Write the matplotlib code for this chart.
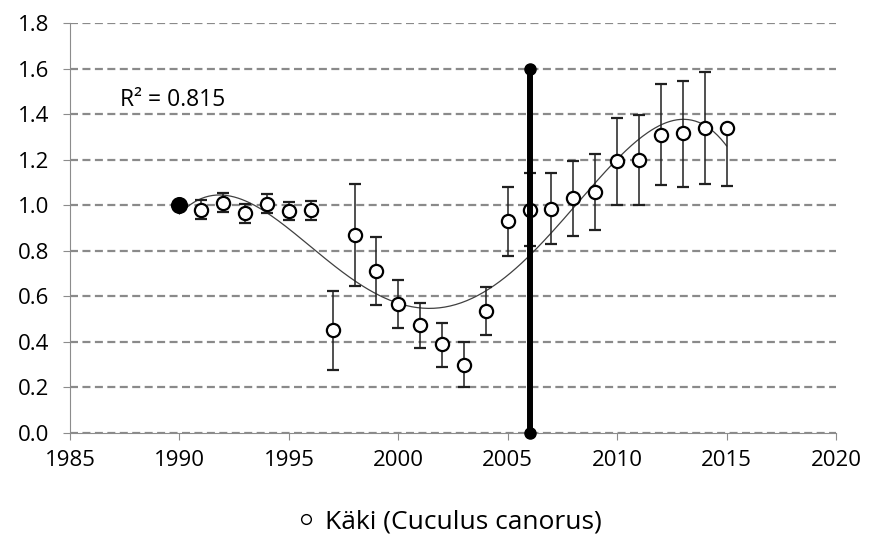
import numpy as np
import matplotlib
matplotlib.use("Agg")
import matplotlib.pyplot as plt
from matplotlib.lines import Line2D

plt.rcParams['font.family'] = ['Open Sans', 'DejaVu Sans']

# index values for Käki, 1990 = base year
years = [1991, 1992, 1993, 1994, 1995, 1996, 1997, 1998, 1999, 2000, 2001, 2002, 2003,
         2004, 2005, 2006, 2007, 2008, 2009, 2010, 2011, 2012, 2013, 2014, 2015]
index = [0.98, 1.01, 0.965, 1.005, 0.975, 0.98, 0.45, 0.87, 0.71, 0.565, 0.475, 0.39, 0.30,
         0.535, 0.93, 0.98, 0.985, 1.03, 1.06, 1.195, 1.20, 1.31, 1.315, 1.34, 1.34]
err_lo = [0.04, 0.04, 0.045, 0.04, 0.04, 0.045, 0.175, 0.225, 0.15, 0.105, 0.10, 0.10, 0.10,
          0.105, 0.155, 0.16, 0.155, 0.165, 0.17, 0.195, 0.20, 0.22, 0.235, 0.245, 0.255]
err_hi = [0.045, 0.045, 0.04, 0.045, 0.04, 0.04, 0.175, 0.225, 0.15, 0.105, 0.095, 0.095, 0.10,
          0.105, 0.15, 0.16, 0.155, 0.165, 0.165, 0.19, 0.195, 0.22, 0.23, 0.245, 0.0]
base_year = 1990
base_val = 1.0
mark_year = 2006
mark_range = [0.0, 1.6]
r2_label = "R\u00b2 = 0.815"
legend_label = "K\u00e4ki (Cuculus canorus)"

fig = plt.figure(figsize=(8.69, 5.42), dpi=100)
ax = fig.add_axes([0.0806, 0.2011, 0.8814, 0.7565])

# trendline (4th order polynomial, like the excel one)
fx = np.array([base_year] + years) - base_year
fy = np.array([base_val] + index)
p = np.poly1d(np.polyfit(fx, fy, 4))
tx = np.linspace(0, fx.max(), 300)
ax.plot(tx + base_year, p(tx), color='#404040', lw=0.9, zorder=3)

ax.errorbar(years, index, yerr=[err_lo, err_hi], fmt='o', ms=9.5, mfc='white', mec='black',
            mew=1.6, ecolor='#202020', elinewidth=1.1, capsize=4.3, capthick=1.1, zorder=4)
ax.plot([base_year], [base_val], 'o', color='black', ms=11.3, zorder=5)

ax.plot([mark_year, mark_year], mark_range, color='black', lw=4.3, marker='o', ms=8,
        solid_capstyle='butt', zorder=6, clip_on=False)

ax.text(1987.3, 1.46, r2_label, fontsize=16.5, va='center', ha='left')

ax.set_xlim(1985, 2020)
ax.set_ylim(0, 1.8)
ax.set_xticks(range(1985, 2021, 5))
ax.set_yticks(np.arange(0, 1.81, 0.2))
ax.set_yticklabels([f"{v:.1f}" for v in np.arange(0, 1.81, 0.2)])
ax.yaxis.grid(True, linestyle=(0, (3.6, 2.0)), color='#8a8a8a', lw=1.6)
ax.set_axisbelow(True)
for s in ['top', 'right']:
    ax.spines[s].set_visible(False)
for s in ['left', 'bottom']:
    ax.spines[s].set_color('#8c8c8c')
ax.tick_params(axis='both', colors='#8c8c8c', labelcolor='black', labelsize=16, length=5)
ax.tick_params(axis='y', pad=10)
ax.tick_params(axis='x', pad=7)

handle = Line2D([], [], linestyle='none', marker='o', ms=7, mfc='white', mec='black', mew=1.0)
fig.legend([handle], [legend_label], loc='center', bbox_to_anchor=(0.518, 0.037),
           frameon=False, fontsize=19, handlelength=0.6, handletextpad=0.4)

fig.savefig('out.png', dpi=100)
